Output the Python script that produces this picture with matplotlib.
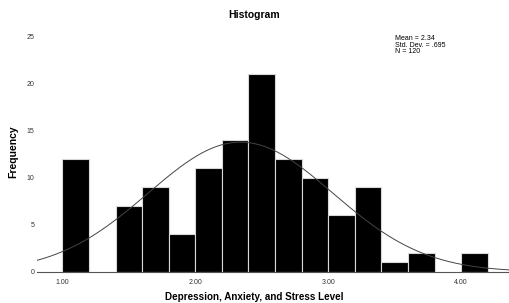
import numpy as np
import matplotlib
matplotlib.use("Agg")
import matplotlib.pyplot as plt

# Data (bin width 0.2)
bin_lefts = [1.0, 1.4, 1.6, 1.8, 2.0, 2.2, 2.4, 2.6, 2.8, 3.0, 3.2, 3.4, 3.6, 4.0]
counts = [12, 7, 9, 4, 11, 14, 21, 12, 10, 6, 9, 1, 2, 2]
bin_width = 0.2
mean, sd, n = 2.34, 0.695, 120
xticks = [1.0, 2.0, 3.0, 4.0]
xtick_labels = ["1.00", "2.00", "3.00", "4.00"]
yticks = [0, 5, 10, 15, 20, 25]

plt.rcParams['font.family'] = ['Liberation Sans', 'DejaVu Sans']
fig = plt.figure(figsize=(5.09, 3.03), dpi=100)
ax = fig.add_axes([0.073, 0.103, 0.927, 0.792])

ax.bar(bin_lefts, counts, width=bin_width, align='edge', color='black',
       edgecolor='#d8d8d8', linewidth=0.8, zorder=2)

xs = np.linspace(0.81, 4.36, 400)
ys = n * bin_width / (sd * np.sqrt(2 * np.pi)) * np.exp(-0.5 * ((xs - mean) / sd) ** 2)
ax.plot(xs, ys, color='#444444', linewidth=0.7, zorder=3)

ax.set_xlim(0.81, 4.36)
ax.set_ylim(0, 25.5)
ax.set_xticks(xticks)
ax.set_xticklabels(xtick_labels)
ax.set_yticks(yticks)
ax.tick_params(axis='both', length=0, labelsize=5, colors='#333333')
ax.tick_params(axis='x', pad=5)
ax.tick_params(axis='y', pad=2)
for s in ['top', 'right', 'left']:
    ax.spines[s].set_visible(False)
ax.spines['bottom'].set_color('#555555')
ax.spines['bottom'].set_linewidth(0.8)

fig.text(0.5, 0.95, "Histogram", ha='center', va='center', fontsize=7.5, fontweight='bold')
fig.text(0.026, 0.5, "Frequency", rotation=90, ha='center', va='center', fontsize=7.5, fontweight='bold')
fig.text(0.5, 0.02, "Depression, Anxiety, and Stress Level", ha='center', va='center',
         fontsize=7.1, fontweight='bold')
fig.text(0.777, 0.885, "Mean = 2.34\nStd. Dev. = .695\nN = 120", ha='left', va='top',
         fontsize=5, linespacing=0.95)

fig.savefig("out.png", dpi=100)
